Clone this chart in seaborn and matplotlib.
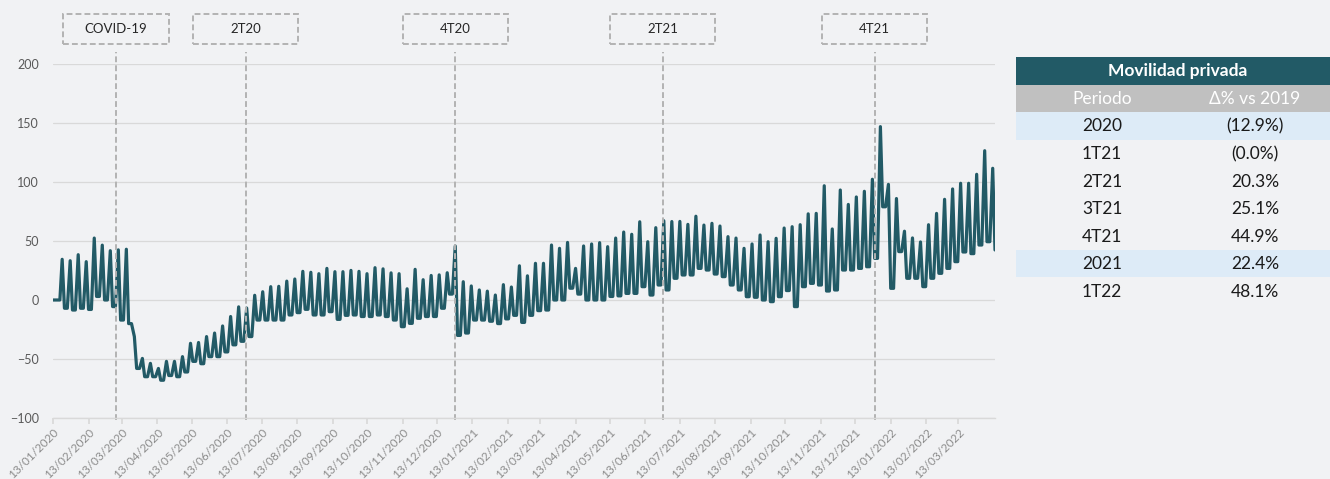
import pandas as pd
import matplotlib.pyplot as plt
import matplotlib.dates as mdates
import matplotlib.transforms as mtransforms
from matplotlib.patches import Rectangle
import seaborn as sns

# ---- data ----
# the series is drawn from one weekly spike and the low level after it
series_start = "2020-01-13"
series_end = "2022-04-14"
first_peak = "2020-01-21"
start_level = 0

weekly_peak = [
    34.5, 33.3, 38.4, 32.5, 52.5, 46.5, 41.8, 42.5, 43.0, -31.0,
    -49.5, -53.7, -58.0, -52.0, -52.0, -48.0, -36.7, -36.0, -31.0, -28.0,
    -22.0, -14.0, -5.8, -6.8, 4.0, 7.0, 11.3, 11.6, 16.0, 17.8,
    24.3, 23.5, 22.3, 26.8, 24.0, 24.0, 25.1, 24.3, 22.3, 27.4,
    26.4, 23.0, 22.3, 9.5, 26.0, 17.2, 20.8, 21.3, 23.1, 45.8,
    15.5, 11.9, 8.5, 7.5, 4.2, 13.0, 11.0, 29.0, 20.5, 31.1,
    31.1, 46.6, 43.8, 48.8, 26.8, 45.8, 47.5, 48.6, 45.2, 52.5,
    57.6, 55.7, 66.3, 49.4, 61.3, 67.2, 66.5, 66.6, 64.1, 71.0,
    63.5, 65.0, 62.7, 53.7, 52.5, 43.8, 47.5, 55.1, 49.4, 52.3,
    61.0, 62.1, 63.8, 73.0, 73.4, 96.8, 60.2, 93.2, 81.0, 87.3,
    92.1, 102.3, 146.9, 98.0, 86.0, 58.3, 52.6, 49.2, 63.8, 73.4,
    85.3, 94.1, 98.9, 98.9, 106.5, 126.5, 111.6,
]
weekly_low = [
    -7.0, -8.5, -7.0, -8.0, 3.0, 0.0, -5.6, -17.0, -20.0, -58.0,
    -65.0, -65.0, -68.0, -64.0, -65.0, -61.0, -52.0, -54.0, -48.0, -48.0,
    -44.0, -38.0, -35.0, -31.0, -17.0, -17.0, -17.0, -17.0, -12.7, -10.7,
    -7.9, -12.7, -12.7, -9.9, -16.4, -13.0, -12.7, -14.0, -14.0, -12.7,
    -14.0, -17.0, -22.6, -19.8, -15.5, -14.0, -14.0, -7.0, 5.0, -30.0,
    -28.0, -17.0, -17.0, -18.0, -20.0, -16.0, -13.0, -19.0, -13.0, -9.0,
    -8.5, 0.0, 0.0, 10.0, 5.0, 0.0, 0.0, 0.0, 3.0, 3.5,
    5.6, 5.6, 11.3, 4.2, 12.7, 8.5, 18.4, 21.2, 21.2, 26.8,
    25.4, 22.0, 19.8, 12.7, 8.5, 2.8, 2.3, 0.0, -1.4, 2.8,
    8.0, -5.6, 11.3, 14.1, 12.7, 7.6, 8.5, 25.4, 25.4, 26.8,
    28.2, 35.3, 79.0, 9.9, 41.0, 18.4, 18.4, 11.3, 18.4, 22.6,
    26.8, 32.5, 40.7, 39.3, 46.6, 49.4, 42.4,
]

event_labels = ["COVID-19", "2T20", "4T20", "2T21", "4T21"]
event_dates = ["2020-03-08", "2020-06-29", "2020-12-29", "2021-06-28", "2021-12-30"]

table_title = "Movilidad privada"
table_header = ["Periodo", "Δ% vs 2019"]
periods = ["2020", "1T21", "2T21", "3T21", "4T21", "2021", "1T22"]
changes = ["(12.9%)", "(0.0%)", "20.3%", "25.1%", "44.9%", "22.4%", "48.1%"]
highlighted = ["2020", "2021"]

# ---- colours ----
bg = "#f1f2f4"
teal = "#225a66"
grid_c = "#d9d9d9"
dash_c = "#b3b3b3"

# build the series: spike, drop, low stretch, next spike
peak_dates = pd.date_range(first_peak, periods=len(weekly_peak), freq="7D")
rows = [(pd.Timestamp(series_start), start_level),
        (peak_dates[0] - pd.Timedelta(days=2), start_level)]
for i, (d, p, lo) in enumerate(zip(peak_dates, weekly_peak, weekly_low)):
    rows.append((d, p))
    rows.append((d + pd.Timedelta(days=2), lo))
    if i < len(peak_dates) - 1:
        rows.append((d + pd.Timedelta(hours=108), lo))
df = pd.DataFrame(rows, columns=["fecha", "valor"])

sns.set_theme(style="white")
plt.rcParams["font.family"] = ["Lato", "DejaVu Sans"]

fig = plt.figure(figsize=(13.3, 4.79), dpi=100)
fig.patch.set_facecolor(bg)

ax = fig.add_axes([53 / 1330, 61 / 479, 942 / 1330, 354 / 479])
ax.set_facecolor(bg)
sns.lineplot(data=df, x="fecha", y="valor", ax=ax, color=teal, linewidth=2.3)

ax.set_xlim(pd.Timestamp(series_start), pd.Timestamp(series_end))
ax.set_ylim(-100, 200)
ax.set_yticks(range(-100, 201, 50))
ax.grid(axis="y", color=grid_c, linewidth=0.9)
ax.grid(axis="x", visible=False)
for s in ["left", "right", "top"]:
    ax.spines[s].set_visible(False)
ax.spines["bottom"].set_color(grid_c)
ax.spines["bottom"].set_linewidth(1.0)
ax.set_xlabel("")
ax.set_ylabel("")

tick_dates = pd.date_range("2020-01-13", "2022-03-13", freq=pd.DateOffset(months=1))
ax.set_xticks(tick_dates)
ax.set_xticklabels([t.strftime("%d/%m/%Y") for t in tick_dates],
                   rotation=45, ha="right", rotation_mode="anchor")
ax.tick_params(axis="x", length=4, color=grid_c, labelsize=8.5,
               labelcolor="#8c8c8c", pad=2, bottom=True)
ax.tick_params(axis="y", length=0, labelsize=9, labelcolor="#595959", pad=10)

# event markers: dashed line plus dashed box with label above the plot
trans = mtransforms.blended_transform_factory(ax.transData, ax.transAxes)
half_w = 46
for lab, d in zip(event_labels, event_dates):
    x = mdates.date2num(pd.Timestamp(d))
    ax.axvline(pd.Timestamp(d), ymin=-0.005, ymax=1.034, color=dash_c,
               linestyle=(0, (3, 1.6)), linewidth=1.4, clip_on=False)
    ax.add_patch(Rectangle((x - half_w, 1.057), 2 * half_w, 0.085, transform=trans,
                           fill=False, edgecolor=dash_c, linestyle=(0, (3, 1.6)),
                           linewidth=1.4, clip_on=False))
    ax.text(x, 1.099, lab, transform=trans, ha="center", va="center",
            fontsize=9.5, color="#262626")

# summary table on the right
tab = fig.add_axes([1016 / 1330, 174 / 479, 314 / 1330, 248 / 479])
tab.set_xlim(0, 1)
tab.set_ylim(len(periods) + 2, 0)
tab.axis("off")
col_x = [0.274, 0.761]

tab.add_patch(Rectangle((0, 0), 1, 1, facecolor=teal, edgecolor="none"))
tab.text(0.516, 0.52, table_title, ha="center", va="center",
         fontsize=12.5, fontweight="bold", color="white")
tab.add_patch(Rectangle((0, 1), 1, 1, facecolor="#c0c0c0", edgecolor="none"))
for cx, h in zip(col_x, table_header):
    tab.text(cx, 1.52, h, ha="center", va="center", fontsize=12.5, color="white")

for i, (p, c) in enumerate(zip(periods, changes)):
    y = i + 2
    if p in highlighted:
        tab.add_patch(Rectangle((0, y), 1, 1, facecolor="#ddebf7", edgecolor="none"))
    tab.text(col_x[0], y + 0.52, p, ha="center", va="center", fontsize=12.5, color="#1a1a1a")
    tab.text(col_x[1], y + 0.52, c, ha="center", va="center", fontsize=12.5, color="#1a1a1a")

fig.savefig("out.png", dpi=100, facecolor=fig.get_facecolor())
